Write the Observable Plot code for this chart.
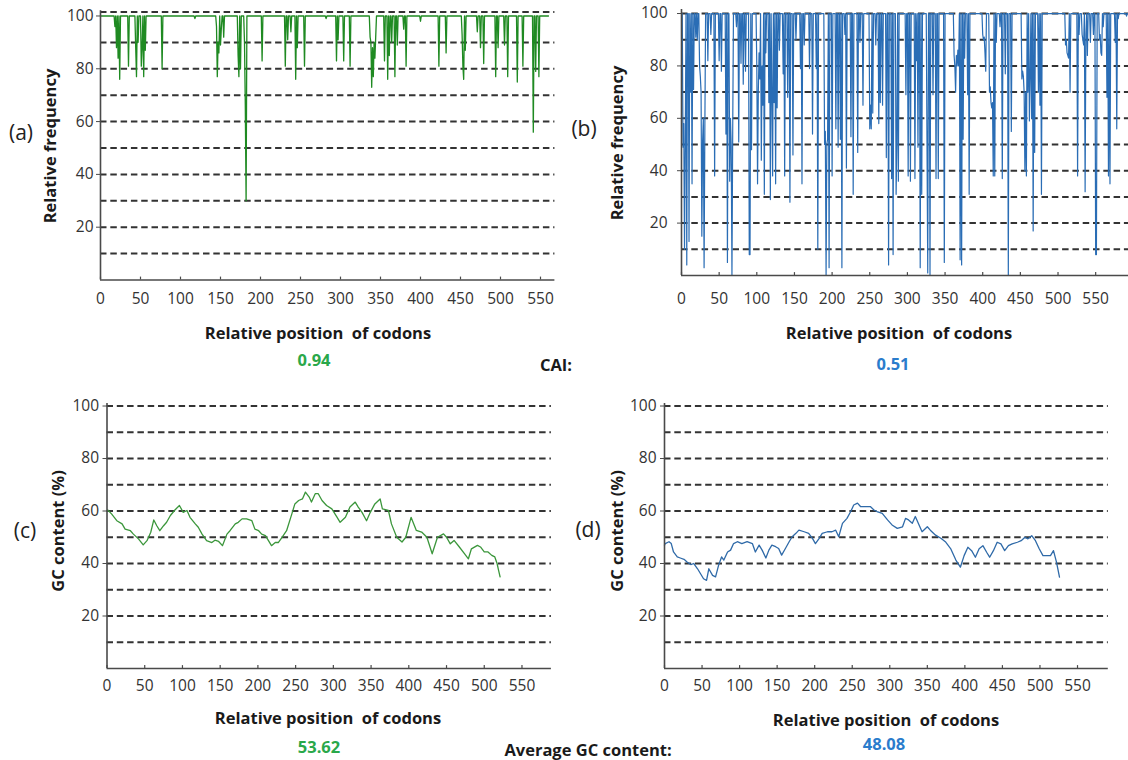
<!DOCTYPE html>
<html><head><meta charset="utf-8">
<script src="https://cdn.jsdelivr.net/npm/d3@7"></script>
<script src="https://cdn.jsdelivr.net/npm/@observablehq/plot@0.6"></script>
<style>
body{margin:0;background:#fff;}
#wrap{position:relative;width:1128px;height:760px;overflow:hidden;font-family:"Open Sans",sans-serif;color:#1a1a1a;background:#fff;}
.p{position:absolute;}
.t{position:absolute;white-space:pre;transform:translate(-50%,-50%);line-height:1;}
.b{font-weight:700;font-size:16.5px;}
.yt{transform:translate(-50%,-50%) rotate(-90deg);}
.lab{font-size:21px;color:#222;}
.g{color:#2aa84a;}
.bl{color:#2a7ccc;}
</style></head><body><div id="wrap"></div>
<script>
// ---------- data ----------
const xTicks = [0,50,100,150,200,250,300,350,400,450,500,550];
const yTicks = [20,40,60,80,100];
const gridLevels = [10,20,30,40,50,60,70,80,90];

// (a) optimised sequence: codon position, relative frequency of dips (others sit at 100)
const aLastCodon = 560;
const aDips = [[18,96],[20,88],[22,84],[24,76],[35,81],[44,88],[45,77],[47,90],[51,81],[52,88],[54,77],[56,87],
[77,80],[118,99],[145,96],[146,77],[147,90],[148,86],[150,89],[151,95],[154,92],[172,85],[173,77],[175,80],
[180,90],[181,66],[182,30],[202,83],[231,81],[234,91],[238,94],[244,76],[246,88],[255,81],[282,99],
[295,83],[297,91],[304,83],[312,81],[337,92],[338,90],[339,73],[340,88],[341,77],[342,90],[343,84],[344,92],
[355,83],[359,76],[361,85],[364,90],[368,77],[371,89],[379,95],[382,81],[400,98],[423,81],[432,86],
[452,93],[453,81],[454,76],[456,87],[471,94],[475,88],[479,82],[494,77],[497,88],[505,89],[509,77],
[521,75],[528,81],[541,56],[544,79],[548,77]];

// (b) native sequence
const bLastCodon = 594;
const bDips = [[2,49],[3,58],[4,10],[5,50],[7,4],[10,13],[12,70],[14,35],[16,71],
[19,91],[21,90],[24,80],[25,76],[26,70],[27,15],[28,51],[29,60],[30,3],[31,55],
[35,82],[39,92],[44,38],[50,82],[53,78],[59,54],[61,5],[64,36],[65,60],[66,50],[67,0],[68,55],
[73,95],[76,51],[79,81],[82,73],[85,78],[90,8],[91,8],[93,48],
[100,80],[101,35],[102,70],[103,85],[104,75],[106,44],[107,80],[108,65],[110,31],[112,85],
[116,66],[118,29],[120,70],[121,38],[123,66],[125,35],[127,64],
[130,86],[135,77],[137,38],[141,68],[144,28],[148,46],[152,90],[158,79],[160,35],[163,88],
[170,79],[174,54],[179,79],[181,10],[190,50],[191,55],[192,0],[193,50],[194,52],[196,3],[200,38],
[205,56],[208,49],[211,52],[213,3],[217,92],[219,41],[225,53],[228,31],[234,47],[237,89],[241,65],
[250,56],[251,65],[252,56],[254,62],[258,88],[262,58],[264,66],[267,65],
[272,45],[275,4],[279,37],[281,8],[285,31],[286,50],[288,36],[298,69],[301,38],[304,36],
[310,37],[312,82],[314,49],[317,3],[319,31],[326,51],[327,1],[330,0],[334,69],[338,37],[341,37],[349,5],
[362,84],[363,80],[364,70],[365,84],[366,80],[367,86],[368,80],[370,6],[372,4],[374,52],
[376,83],[380,69],[382,31],[400,92],[401,90],[402,91],[403,85],[404,78],
[409,70],[410,72],[411,66],[412,64],[413,66],[414,38],[416,38],[418,89],
[423,95],[426,37],[430,77],[434,0],[438,55],
[452,75],[453,78],[454,76],[455,70],[456,40],[457,70],[458,38],[460,70],[462,59],[463,75],[465,60],
[467,17],[469,47],[474,70],[476,65],[478,31],[510,88],[511,90],[512,85],[513,84],[514,83],[516,70],
[526,38],[528,92],[532,92],[533,90],[534,88],[536,32],[537,92],[539,84],[543,89],[547,92],
[550,8],[551,8],[555,90],[556,92],[557,85],[558,84],[560,95],[565,68],[567,38],[569,35],
[576,89],[578,56],[580,98],[591,99]];

// (c) GC content, optimised
const cGC = [[0,60],[1,60.4],[6,58.9],[13,56.3],[20,55.1],[24,53.1],[31,52.5],[35,51.2],[42,49.3],[48,47.1],[53,48.7],
[58,51.9],[62,56.6],[66,54.4],[70,52.5],[75,54.4],[79,55.7],[84,58.3],[90,60.4],[96,62.1],[101,59.5],[106,60.2],
[110,57.6],[117,55.1],[121,53.8],[126,51.2],[132,48.7],[139,48],[143,48.9],[148,48.4],[153,46.8],[159,51.2],
[163,52.5],[170,55.1],[174,55.7],[179,57],[185,57],[192,56.3],[196,53.1],[201,52.5],[205,51.2],[210,50.6],
[214,48.7],[218,46.8],[223,48],[227,48],[232,50],[238,52.5],[245,58.9],[249,62.7],[254,64],[259,64.6],
[263,67.2],[268,65.3],[271,63.4],[276,66.6],[280,66.6],[285,64],[291,62.1],[298,60.8],[305,57.6],[309,55.7],
[316,57.6],[322,61.5],[329,63.4],[333,61.5],[338,59.5],[344,56.3],[349,59.5],[355,62.7],[362,64.6],[365,60.8],
[373,60.2],[377,55.1],[384,50],[391,48.2],[396,50],[403,57.6],[410,52.6],[417,52],[424,50],[431,43.7],
[438,50],[446,51.3],[450,50],[455,47.5],[460,48.8],[467,46.3],[474,43.7],[479,41.8],[483,45.6],[491,46.9],
[495,46.3],[500,44.4],[505,44.4],[510,43.1],[514,42.5],[517,40],[519,37.4],[521,34.9]];

// (d) GC content, native
const dGC = [[0,47],[1,47.6],[6,48.3],[9,47.6],[12,44.4],[17,42.5],[21,42.1],[26,41.6],[30,40.6],[35,39.6],[39,40],
[44,38],[48,36.1],[52,34.2],[56,33.6],[59,38],[64,35.5],[68,34.9],[72,39.3],[76,42.5],[79,41.3],[84,44.4],
[88,45.1],[92,47.6],[97,48.3],[103,47.6],[110,48.3],[117,47.6],[121,44.4],[126,47],[130,45.1],[135,42.1],
[139,45.1],[143,47],[148,46.4],[152,45.7],[156,43.2],[161,45.7],[166,48.3],[170,50.2],[175,51.5],[179,52.7],
[186,52.1],[192,51.5],[197,49.6],[201,47.6],[206,49.6],[210,51.5],[217,52.1],[223,52.1],[228,52.7],[232,50.2],
[237,55.3],[243,57.2],[248,59.8],[252,62.3],[257,63],[261,61.7],[268,61.7],[274,61.7],[279,60.4],[283,59.8],
[290,59.1],[297,56.6],[303,54.7],[310,53.4],[317,54],[321,57.2],[325,56.6],[330,55.3],[334,57.9],[339,54.7],
[343,52.1],[350,54],[354,52.7],[361,50.8],[368,49.6],[374,48.3],[381,45.7],[388,41.3],[394,38.6],[399,43],
[404,46.2],[409,44.9],[414,42.4],[419,45.6],[424,46.8],[429,44.3],[433,42.4],[438,44.9],[443,48.1],[448,47.5],
[453,44.9],[458,46.8],[463,47.5],[470,48.1],[475,48.7],[480,50],[484,49.4],[489,50.6],[494,48.7],[499,45.6],
[504,43],[509,43],[514,43],[518,44.9],[522,40.5],[526,34.8]];

const caiValues = ["0.94","0.51"];
const gcAverages = ["53.62","48.08"];

// ---------- helpers ----------
function codonSeries(last, dips){
  const v = Array.from({length:last+1}, ()=>100);
  dips.forEach(([p,y])=>{ v[p] = Math.min(v[p], y); });
  return v.map((y,x)=>({x,y}));
}
const wrap = document.getElementById("wrap");
function place(svg, left, top){
  svg.classList.add("p"); svg.style.left = left+"px"; svg.style.top = top+"px"; wrap.appendChild(svg);
}
function txt(s, x, y, cls){
  const d = document.createElement("div"); d.className = "t "+cls; d.textContent = s;
  d.style.left = x+"px"; d.style.top = y+"px"; wrap.appendChild(d);
}
const dash = {stroke:"#333", strokeWidth:2, strokeDasharray:"6.5,3.8"};
const axisStroke = {stroke:"#4a4a4a", strokeWidth:1.6};
const FS = 15.5;

function panel(o){
  return Plot.plot({
    width:o.width, height:o.height,
    marginLeft:o.ml, marginRight:o.mr, marginTop:o.mt, marginBottom:o.mb,
    style:{background:"transparent", fontFamily:"Open Sans", fontSize:FS+"px", color:"#333", overflow:"visible"},
    x:{domain:o.xd, axis:null},
    y:{domain:o.yd, axis:null},
    marks:[
      Plot.ruleY(o.grid, dash),
      Plot.line(o.data, {x:"x", y:"y", stroke:o.color, strokeWidth:o.sw, curve:"linear"}),
      Plot.ruleX([0], axisStroke),
      Plot.ruleY([0], axisStroke),
      Plot.ruleX(xTicks, {y1:0, y2:1.1, stroke:"#4a4a4a", strokeWidth:1.2}),
      Plot.axisX({ticks:xTicks, tickSize:0, tickPadding:o.xpad, label:null, fontSize:FS, fill:"#333"}),
      Plot.axisY({ticks:yTicks, tickSize:4, tickPadding:o.ypad, label:null, fontSize:FS, fill:"#333", stroke:"#4a4a4a"})
    ]
  });
}

// (a)
place(panel({width:570, height:320, ml:100, mr:15.6, mt:10.2, mb:40.5, xd:[0,568], yd:[0,102],
  grid:[...gridLevels,101.5], data:codonSeries(aLastCodon,aDips), color:"#1f8a22", sw:1.3, xpad:12.5, ypad:3}), 0, 0);
// (b)
place(panel({width:568, height:320, ml:121, mr:0, mt:9.1, mb:45, xd:[0,593.6], yd:[0,101.5],
  grid:[...gridLevels,100], data:codonSeries(bLastCodon,bDips), color:"#2a6db5", sw:1.2, xpad:17, ypad:10}), 560, 0);
// (c)
place(panel({width:570, height:320, ml:106.5, mr:19.1, mt:22.9, mb:32, xd:[0,589], yd:[0,101],
  grid:[...gridLevels,100], data:cGC.map(([x,y])=>({x,y})), color:"#3b963b", sw:1.3, xpad:11, ypad:4}), 0, 380);
// (d)
place(panel({width:568, height:320, ml:104, mr:20.2, mt:22.9, mb:32, xd:[0,591], yd:[0,101],
  grid:[...gridLevels,100], data:dGC.map(([x,y])=>({x,y})), color:"#2f6aa8", sw:1.3, xpad:11, ypad:4}), 560, 380);

// texts
txt("(a)", 21, 132, "lab");
txt("(b)", 584, 128, "lab");
txt("(c)", 25, 530, "lab");
txt("(d)", 588, 529, "lab");
txt("Relative frequency", 50, 146, "b yt");
txt("Relative frequency", 617, 143, "b yt");
txt("GC content (%)", 58, 531, "b yt");
txt("GC content (%)", 617, 531, "b yt");
txt("Relative position  of codons", 318, 333, "b");
txt("Relative position  of codons", 899, 333, "b");
txt("Relative position  of codons", 328, 718, "b");
txt("Relative position  of codons", 886, 720, "b");
txt(caiValues[0], 314, 360, "b g");
txt("CAI:", 556, 365, "b");
txt(caiValues[1], 893, 364, "b bl");
txt(gcAverages[0], 319, 747, "b g");
txt("Average GC content:", 588, 750, "b");
txt(gcAverages[1], 884, 744, "b bl");
</script></body></html>
